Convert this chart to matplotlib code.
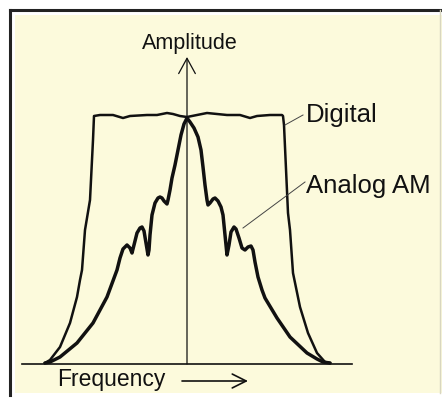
import numpy as np
import matplotlib.pyplot as plt
from matplotlib.patches import Rectangle
from matplotlib.lines import Line2D

plt.rcParams['font.family'] = ['Liberation Sans', 'DejaVu Sans']

# Digital spectrum: flat top with steep skirts (freq offset from carrier, amplitude)
digital_freq = [-142, -137, -127, -117, -110, -107, -105, -102, -97, -94, -93,
                -87, -74, -64, -57, -40, -30, -20, -14, -7, 0, 10, 20, 30, 40,
                53, 63, 70, 83, 95, 96, 97, 101, 103, 106, 113, 121, 130, 138, 143]
digital_amp = [1, 4, 17, 41, 67, 84, 94, 134, 164, 224, 248,
               249, 249, 246, 248, 249, 249, 251, 250, 248, 247, 249, 251, 250, 249,
               249, 246, 248, 249, 249, 248, 239, 151, 134, 91, 57, 31, 11, 2, 1]

# Analog AM spectrum: peaked at carrier with rippled sidebands
analog_freq = [-142, -137, -127, -110, -94, -80, -70, -67, -64, -60, -57, -55,
               -53, -50, -47, -45, -43, -41, -39, -38, -37, -35, -32, -29, -27,
               -25, -23, -20, -19, -17, -15, -12, -9, -6, -3, 0,
               3, 7, 11, 14, 16, 18, 20, 21, 23, 26, 28, 31, 34, 36, 38, 40, 42,
               44, 47, 49, 52, 55, 58, 61, 64, 66, 68, 71, 75, 78, 84, 90, 103,
               120, 130, 136, 143]
analog_amp = [1, 2, 7, 21, 41, 67, 94, 106, 115, 119, 116, 111,
              119, 131, 136, 137, 133, 121, 109, 114, 129, 149, 161, 166, 167,
              166, 163, 160, 164, 174, 186, 199, 214, 229, 240, 246,
              242, 236, 227, 214, 197, 179, 164, 159, 161, 165, 166, 163, 157, 149, 129, 109, 119,
              132, 137, 135, 126, 116, 114, 117, 118, 114, 102, 87, 74, 66, 56, 46, 27,
              11, 5, 2, 1]

labels = ["Amplitude", "Frequency", "Digital", "Analog AM"]

ink = '#111111'
bg = '#fcfadc'

fig = plt.figure(figsize=(4.42, 4.00), dpi=100, facecolor='white')

# scanned page background and frame
fig.patches.append(Rectangle((15 / 442, 1 - 393 / 400), 427 / 442, 378 / 400,
                             transform=fig.transFigure, facecolor=bg,
                             edgecolor='none', zorder=-2))
fig.lines.append(Line2D([10 / 442, 10 / 442], [1 - 395 / 400, 1 - 10 / 400],
                        transform=fig.transFigure, color='#222222', lw=2.2, zorder=-1))
fig.lines.append(Line2D([10 / 442, 1.0], [1 - 10 / 400, 1 - 10 / 400],
                        transform=fig.transFigure, color='#222222', lw=2.2, zorder=-1))
fig.lines.append(Line2D([439.5 / 442, 439.5 / 442], [1 - 393 / 400, 1 - 10 / 400],
                        transform=fig.transFigure, color='#d8d6c0', lw=1.0, zorder=-1))

ax = fig.add_axes([0, 0, 1, 1], zorder=1)
ax.set_facecolor('none')
ax.set_xlim(-187, 255)
ax.set_ylim(-36, 364)
ax.axis('off')

# frequency baseline and amplitude axis
ax.plot([-165, 165], [0, 0], color=ink, lw=1.2)
ax.annotate('', xy=(0, 307), xytext=(0, 0),
            arrowprops=dict(arrowstyle='->,head_length=0.55,head_width=0.3',
                            color=ink, lw=0.9, mutation_scale=20,
                            shrinkA=0, shrinkB=0))

ax.plot(digital_freq, digital_amp, color=ink, lw=1.8, solid_joinstyle='round')
ax.plot(analog_freq, analog_amp, color=ink, lw=2.5, solid_joinstyle='round',
        solid_capstyle='round')

ax.text(3, 315, labels[0], ha='center', va='baseline', fontsize=15.5, color=ink)
ax.text(-130, -22, labels[1], ha='left', va='baseline', fontsize=16.5, color=ink)
ax.annotate('', xy=(61, -17), xytext=(-5, -17),
            arrowprops=dict(arrowstyle='->,head_length=0.5,head_width=0.25',
                            color=ink, lw=1.2, mutation_scale=20,
                            shrinkA=0, shrinkB=0))

ax.text(119, 242, labels[2], ha='left', va='baseline', fontsize=18.5, color=ink)
ax.plot([98, 116], [239, 249], color='#444444', lw=0.7)
ax.text(119, 171, labels[3], ha='left', va='baseline', fontsize=18.5, color=ink)
ax.plot([56, 118], [136, 182], color='#444444', lw=0.7)

fig.savefig('out.png', dpi=100, facecolor='white')
